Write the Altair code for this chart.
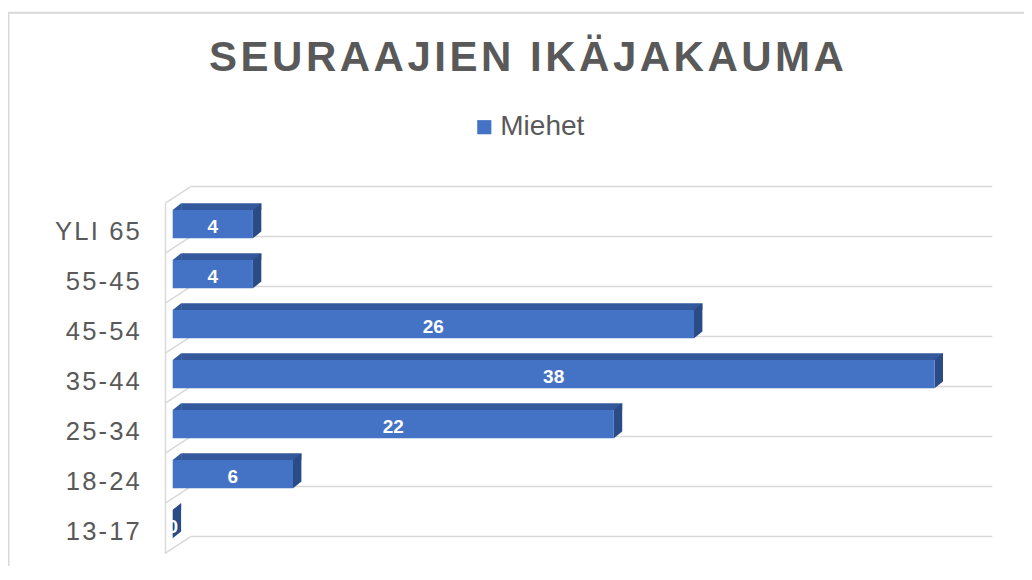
import altair as alt
import pandas as pd

# ---- data ----
categories = ["YLI 65", "55-45", "45-54", "35-44", "25-34", "18-24", "13-17"]
values = [4, 4, 26, 38, 22, 6, 0]
series_name = "Miehet"
title_text = "SEURAAJIEN IKÄJAKAUMA"
x_max = 40

df = pd.DataFrame({"cat": categories, "value": values})
df["series"] = series_name
df["zero"] = 0
df["xmax"] = x_max
df["mid"] = df["value"] / 2

# ---- styles ----
FRONT = "#4472C4"
TOP = "#34589C"
SIDE = "#2B4B86"
GRID = "#D9D9D9"
TEXT = "#595959"
FONT = "Liberation Sans"
HS = "\u200a"

y_enc = alt.Y(
    "cat:N",
    sort=categories,
    scale=alt.Scale(paddingInner=0, paddingOuter=0),
    axis=alt.Axis(
        title=None, domain=True, domainColor=GRID, domainWidth=1.5, offset=7.7,
        ticks=False, tickSize=0, labelPadding=25.7, labelFontSize=25.6,
        labelFont=FONT, labelColor=TEXT, labelBaseline="alphabetic",
        labelOffset=11.7, grid=False,
        labelExpr="join(split(datum.label, ''), '" + HS + "')",
    ),
)
x_scale = alt.Scale(domain=[0, x_max], nice=False)
x_zero = alt.X("zero:Q", scale=x_scale, axis=None)

base = alt.Chart(df).encode(y=y_enc)
last = alt.datum.cat == categories[-1]

back_lines = base.mark_rule(color=GRID, strokeWidth=1.5, xOffset=18, x2Offset=17.6, yOffset=-41.7).encode(
    x=x_zero, x2="xmax:Q")
back_bottom = base.transform_filter(last).mark_rule(
    color=GRID, strokeWidth=1.5, xOffset=18, x2Offset=17.6, yOffset=8.3).encode(x=x_zero, x2="xmax:Q")

diag_path = "M-1,0.65L1,-0.65"
diags = base.mark_point(shape=diag_path, size=660, filled=False, color=GRID, strokeWidth=1.5,
                        opacity=1, xOffset=5.15, yOffset=-33.35).encode(x=x_zero)
diag_bottom = base.transform_filter(last).mark_point(
    shape=diag_path, size=660, filled=False, color=GRID, strokeWidth=1.5,
    opacity=1, xOffset=5.15, yOffset=16.65).encode(x=x_zero)

top_face = base.mark_bar(height=6.7, yOffset=-21.65, xOffset=8.4, x2Offset=8.4, color=TOP).encode(
    x=x_zero, x2="value:Q")
left_tri = base.mark_point(shape="M0,-0.617L0.48,-1L0.48,-0.617Z", size=1225, filled=True,
                           color=TOP, strokeWidth=0, opacity=1, yOffset=-7.5).encode(x=x_zero)
side_face = base.mark_point(shape="M0,-0.617L0.48,-1L0.48,0.617L0,1Z", size=1225, filled=True,
                            color=SIDE, strokeWidth=0, opacity=1, yOffset=-7.5).encode(
    x=alt.X("value:Q", scale=x_scale, axis=None))
front_face = base.mark_bar(height=28.3, yOffset=-4.15).encode(
    x=x_zero, x2="value:Q",
    color=alt.Color("series:N", scale=alt.Scale(domain=[series_name], range=[FRONT]),
                    legend=alt.Legend(orient="none", legendX=297.6, legendY=-90.1, title=None,
                                      symbolType="square", symbolSize=200, symbolStrokeWidth=0,
                                      labelFontSize=28, labelFont=FONT, labelColor=TEXT,
                                      labelOffset=2, padding=0)))
labels = base.mark_text(color="white", fontWeight="bold", fontSize=19, font=FONT,
                        baseline="alphabetic", yOffset=4.4).encode(
    x=alt.X("mid:Q", scale=x_scale, axis=None), text="value:Q")

frame_df = pd.DataFrame({"k": [0]})
border_left = alt.Chart(frame_df).mark_rule(color=GRID, strokeWidth=2).encode(
    x=alt.value(-164.2), y=alt.value(-190.6), y2=alt.value(380))
border_top = alt.Chart(frame_df).mark_rule(color=GRID, strokeWidth=2).encode(
    x=alt.value(-165), x2=alt.value(880), y=alt.value(-190.6))

chart = alt.layer(
    border_left, border_top, back_lines, back_bottom, diags, diag_bottom,
    top_face, left_tri, side_face, front_face, labels,
).properties(
    width=802, height=350,
    title=alt.Title(HS.join(title_text), font=FONT, fontSize=42, fontWeight="bold",
                    color=TEXT, anchor="middle", dx=-47.2, dy=101.7, offset=0,
                    baseline="alphabetic"),
    autosize=alt.AutoSizeParams(type="none"),
    padding={"left": 164.7, "top": 195.3, "right": 49.3, "bottom": 12.7},
).configure(background="white", view=alt.ViewConfig(strokeWidth=0, stroke="transparent"))

chart.save("out.html", embed_options={"renderer": "svg", "actions": False})
